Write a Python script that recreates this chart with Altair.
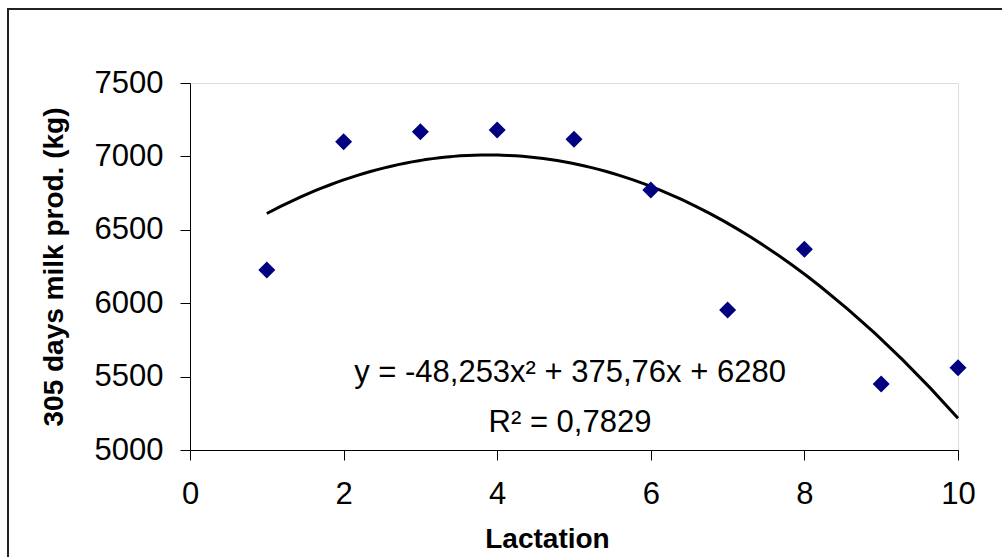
import altair as alt
import pandas as pd

# Lactation number and 305-day milk production (kg)
lactation = [1, 2, 3, 4, 5, 6, 7, 8, 9, 10]
milk_kg = [6226, 7100, 7168, 7180, 7116, 6771, 5954, 6367, 5450, 5561]

equation_text = "y = -48,253x² + 375,76x + 6280"
r2_text = "R² = 0,7829"

x_ticks = [0, 2, 4, 6, 8, 10]
y_ticks = [5000, 5500, 6000, 6500, 7000, 7500]

df = pd.DataFrame({"Lactation": lactation, "Milk": milk_kg})

FONT = "Liberation Sans"

x_enc = alt.X(
    "Lactation:Q",
    scale=alt.Scale(domain=[0, 10], nice=False, zero=False),
    axis=alt.Axis(
        title="Lactation",
        values=x_ticks,
        format="d",
        grid=False,
        labelFlush=False,
        labelOverlap=False,
        domainColor="#000000",
        tickColor="#000000",
        tickSize=10,
        labelFontSize=31,
        labelFont=FONT,
        labelColor="#000000",
        labelPadding=19,
        titleFont=FONT,
        titleFontSize=28,
        titleFontWeight="bold",
        titleColor="#000000",
        titleX=357,
        titleY=97,
        titleBaseline="alphabetic",
    ),
)
y_enc = alt.Y(
    "Milk:Q",
    scale=alt.Scale(domain=[5000, 7500], nice=False, zero=False),
    axis=alt.Axis(
        title="305 days milk prod. (kg)",
        values=y_ticks,
        format="d",
        grid=False,
        labelFlush=False,
        labelOverlap=False,
        domainColor="#000000",
        tickColor="#000000",
        tickSize=10,
        labelFontSize=31,
        labelFont=FONT,
        labelColor="#000000",
        labelPadding=17,
        titleFont=FONT,
        titleFontSize=28,
        titleFontWeight="bold",
        titleColor="#000000",
        titleX=-128,
        titleBaseline="alphabetic",
    ),
)

base = alt.Chart(df)

# Outer chart frame (left and top edges fall inside the view)
frame = base.mark_rect(fill=None, stroke="#222222", strokeWidth=2, clip=False).encode(
    x=alt.value(-182), x2=alt.value(1100), y=alt.value(-74), y2=alt.value(700)
).transform_filter("datum.Lactation == 1")

points = base.mark_point(
    shape="diamond", size=289, filled=True, color="#000080", opacity=1, strokeWidth=0
).encode(x=x_enc, y=y_enc)

trend = (
    base.transform_regression(
        "Lactation", "Milk", method="poly", order=2, extent=[1, 10]
    )
    .mark_line(color="#000000", strokeWidth=3)
    .encode(x="Lactation:Q", y="Milk:Q")
)

eq = base.mark_text(
    text=equation_text, font=FONT, fontSize=31, color="#000000", align="center", baseline="alphabetic"
).encode(x=alt.value(380), y=alt.value(299)).transform_filter("datum.Lactation == 1")

r2 = base.mark_text(
    text=r2_text, font=FONT, fontSize=31, color="#000000", align="center", baseline="alphabetic"
).encode(x=alt.value(380), y=alt.value(349)).transform_filter("datum.Lactation == 1")

chart = (
    alt.layer(frame, trend, points, eq, r2)
    .properties(
        width=768,
        height=367,
        autosize=alt.AutoSizeParams(type="none"),
        padding={"left": 190, "top": 83, "right": 44, "bottom": 107},
    )
    .configure_view(stroke=None)
    .configure(background="#ffffff")
)

chart.save("out.html", embed_options={"renderer": "svg", "actions": False})
